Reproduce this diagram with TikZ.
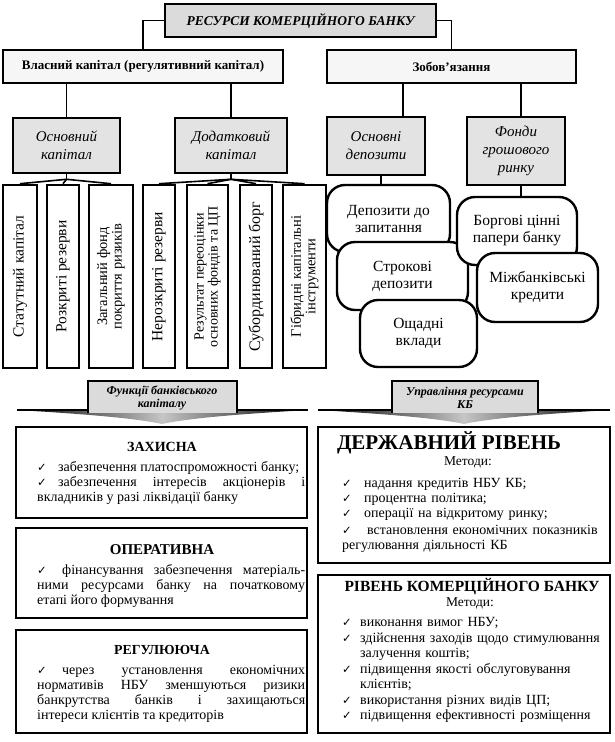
\documentclass[tikz,border=0pt]{standalone}
\usepackage{fontspec}
\setmainfont{Liberation Serif}
\newfontfamily\symf{DejaVu Sans}
\newcommand{\chk}{{\symf\fontsize{11.5}{11}\selectfont ✓}}
\newcommand{\itm}[3]{\par\noindent\hangindent=#2\hangafter=1\makebox[#1][l]{\chk}#3}
\newcommand{\bx}[7]{\node[#1, minimum width={#5-#3}, minimum height={#6-#4}] (#2) at ({(#3+#5)/2},{(#4+#6)/2}) {#7};}
\newcommand{\vb}[5]{\node[vbox, minimum width={#3-#2}, minimum height=183] (#1) at ({(#2+#3)/2},276.5) {};
 \node[rotate=90, align=center, inner sep=0pt, font=\fontsize{#5}{#5}\selectfont] (#1t) at (#1) {#4};}
\tikzset{
 thickbox/.style={draw, line width=2.6pt, inner sep=1pt, align=center},
 conn/.style={line width=1.6pt},
 titlebox/.style={thickbox, fill=gray!28, font=\bfseries\itshape\fontsize{13.5}{16}\selectfont},
 lvlone/.style={thickbox, fill=gray!7, font=\bfseries\fontsize{13}{15}\selectfont},
 lvltwo/.style={thickbox, fill=gray!22, font=\itshape\fontsize{15}{18}\selectfont},
 vbox/.style={thickbox, fill=white},
 pill/.style={draw, line width=2.4pt, fill=white, rounded corners=18pt, align=center, inner sep=1pt, font=\fontsize{15.5}{17}\selectfont},
 lowbox/.style={draw, line width=2.6pt, fill=white, inner sep=0pt},
 heading/.style={inner sep=0pt, font=\bfseries\fontsize{15}{17}\selectfont},
 listtxt/.style={anchor=north west, inner sep=0pt, align=justify, font=\fontsize{14}{15}\selectfont},
 arrtxt/.style={inner sep=0pt, align=center, font=\bfseries\itshape\fontsize{12}{13.5}\selectfont},
}
\begin{document}
\begin{tikzpicture}[x=1pt,y=-1pt]
\useasboundingbox (0,0) rectangle (615,742);
% top
\bx{titlebox}{title}{165}{4}{436}{37}{РЕСУРСИ КОМЕРЦІЙНОГО БАНКУ}
\bx{lvlone}{vk}{3}{50}{283}{83}{Власний капітал (регулятивний капітал)}
\bx{lvlone}{zob}{327}{50}{576}{83}{Зобов'язання}
\draw[conn] (title.west) -| (vk.north);
\draw[conn] (title.east) -| (zob.north);
% level 2
\bx{lvltwo}{osn}{13}{118}{120}{173}{Основний\\капітал}
\bx{lvltwo}{dod}{175}{118}{287}{173}{Додатковий\\капітал}
\bx{lvltwo}{od}{327}{117}{425}{175}{Основні\\депозити}
\bx{lvltwo}{fr}{467}{117}{565}{185}{Фонди\\грошового\\ринку}
\coordinate (odin) at ([xshift=27pt]od.north);
\coordinate (frin) at ([xshift=5pt]fr.north);
\coordinate (odout) at ([xshift=5pt]od.south);
\coordinate (frout) at ([xshift=5pt]fr.south);
\draw[conn] (vk.south -| osn.north) -- (osn.north);
\draw[conn] (vk.south -| dod.north) -- (dod.north);
\draw[conn] (zob.south -| odin) -- (odin);
\draw[conn] (zob.south -| frin) -- (frin);
% vertical boxes
\vb{b1}{3}{37}{Статутний капітал}{15.5}
\vb{b2}{47}{79}{Розкриті резерви}{15.5}
\vb{b3}{89}{133}{Загальний фонд\\покриття ризиків}{14.5}
\vb{b4}{143}{175}{Нерозкриті резерви}{15.5}
\vb{b5}{187}{228}{Результат переоцінки\\основних фондів та ЦП}{14}
\vb{b6}{240}{272}{Субординований борг}{16}
\vb{b7}{283}{326}{Гібридні капітальні\\інструменти}{14.5}
\coordinate (h1) at ([yshift=-5pt]osn.south);
\coordinate (h2) at ([yshift=-5pt]dod.south);
\draw[conn] (osn.south) -- (h1);
\draw[conn] (dod.south) -- (h2);
\foreach \b in {b1,b2,b3} \draw[conn] (h1) -- (\b.north);
\foreach \b in {b4,b5,b6,b7} \draw[conn] (h2) -- (\b.north);
% pills
\bx{pill}{p1}{327}{185}{450}{252}{Депозити до\\запитання}
\bx{pill}{p2}{337}{242}{468}{310}{Строкові\\депозити}
\bx{pill}{p3}{360}{300}{477}{367}{Ощадні\\вклади}
\bx{pill}{pa}{457}{197}{577}{265}{Боргові цінні\\папери банку}
\bx{pill}{pb}{477}{253}{598}{322}{Міжбанківські\\кредити}
\draw[conn] (odout) -- (odout |- p1.north);
\draw[conn] (frout) -- (frout |- pa.north);
% arrows
\shade[left color=black, right color=black, middle color=gray!45]
 (17,410) -- (308,410) .. controls (240,414) and (190,418) .. (162,424)
 .. controls (134,418) and (84,414) .. (17,410) -- cycle;
\fill[gray!28] (88,381) rectangle (237,413);
\draw[line width=2.2pt] (88,413) -- (88,381) -- (237,381) -- (237,413);
\draw[line width=2.2pt] (17,410) -- (88,410) (237,410) -- (308,410);
\node[arrtxt] (fa) at (162,398) {Функції банківського\\капіталу};
\shade[left color=black, right color=black, middle color=gray!45]
 (318,410) -- (610,410) .. controls (542,414) and (492,418) .. (464,424)
 .. controls (436,418) and (386,414) .. (318,410) -- cycle;
\fill[gray!28] (392,381) rectangle (538,413);
\draw[line width=2.2pt] (392,413) -- (392,381) -- (538,381) -- (538,413);
\draw[line width=2.2pt] (318,410) -- (392,410) (538,410) -- (610,410);
\node[arrtxt] (fb) at (465,398) {Управління ресурсами\\КБ};
% lower left
\bx{lowbox}{z1}{16}{427}{307}{518}{}
\bx{lowbox}{z2}{16}{528}{307}{618}{}
\bx{lowbox}{z3}{16}{630}{307}{733}{}
\node[heading, font=\bfseries\fontsize{14}{17}\selectfont] (z1h) at (162,447) {ЗАХИСНА};
\node[heading] (z2h) at (162,550) {ОПЕРАТИВНА};
\node[heading, font=\bfseries\fontsize{13.8}{17}\selectfont] (z3h) at (162,650) {РЕГУЛЮЮЧА};
\node[listtxt, text width=268pt] (z1l) at (37,456) {%
\itm{21pt}{21pt}{\mbox{забезпечення платоспроможності банку;}}
\itm{21pt}{21pt}{забезпечення інтересів акціонерів і\linebreak вкладників у разі ліквідації банку}};
\node[listtxt, text width=268pt] (z2l) at (37,559) {%
\itm{21pt}{21pt}{\hspace{4pt}фінансування забезпечення матеріаль-\linebreak ними ресурсами банку на початковому\linebreak етапі його формування}};
\node[listtxt, text width=268pt] (z3l) at (37,659) {%
\itm{21pt}{21pt}{\hspace{4pt}через установлення економічних\linebreak нормативів НБУ зменшуються ризики\linebreak банкрутства банків і захищаються\linebreak інтереси клієнтів та кредиторів}};
% lower right
\bx{lowbox}{r1}{318}{427}{610}{563}{}
\bx{lowbox}{r2}{318}{575}{610}{733}{}
\node[heading, font=\bfseries\fontsize{21}{22}\selectfont] (r1h) at (449,443) {ДЕРЖАВНИЙ РІВЕНЬ};
\node[inner sep=0pt, font=\fontsize{13.5}{16}\selectfont] (r1m) at (468,462) {Методи:};
\node[listtxt, align=left, text width=264pt] (r1l) at (342,472) {%
\itm{22pt}{13pt}{надання кредитів НБУ КБ;}
\itm{22pt}{13pt}{процентна політика;}
\itm{22pt}{13pt}{операції на відкритому ринку;}
\par\vspace{2pt}
\itm{22pt}{13pt}{\hspace{3pt}\mbox{встановлення економічних показників}\newline регулювання діяльності КБ}};
\node[heading, font=\bfseries\fontsize{15.5}{17}\selectfont] (r2h) at (472,587) {РІВЕНЬ КОМЕРЦІЙНОГО БАНКУ};
\node[inner sep=0pt, font=\fontsize{13.5}{16}\selectfont] (r2m) at (470,603) {Методи:};
\node[listtxt, align=left, text width=264pt, font=\fontsize{14}{15.5}\selectfont] (r2l) at (342,611) {%
\itm{18pt}{18pt}{виконання вимог НБУ;}
\itm{18pt}{18pt}{\mbox{здійснення заходів щодо стимулювання}\newline залучення коштів;}
\itm{18pt}{18pt}{підвищення якості обслуговування\newline клієнтів;}
\itm{18pt}{18pt}{використання різних видів ЦП;}
\itm{18pt}{18pt}{\mbox{підвищення ефективності розміщення}}};
\end{tikzpicture}
\end{document}
